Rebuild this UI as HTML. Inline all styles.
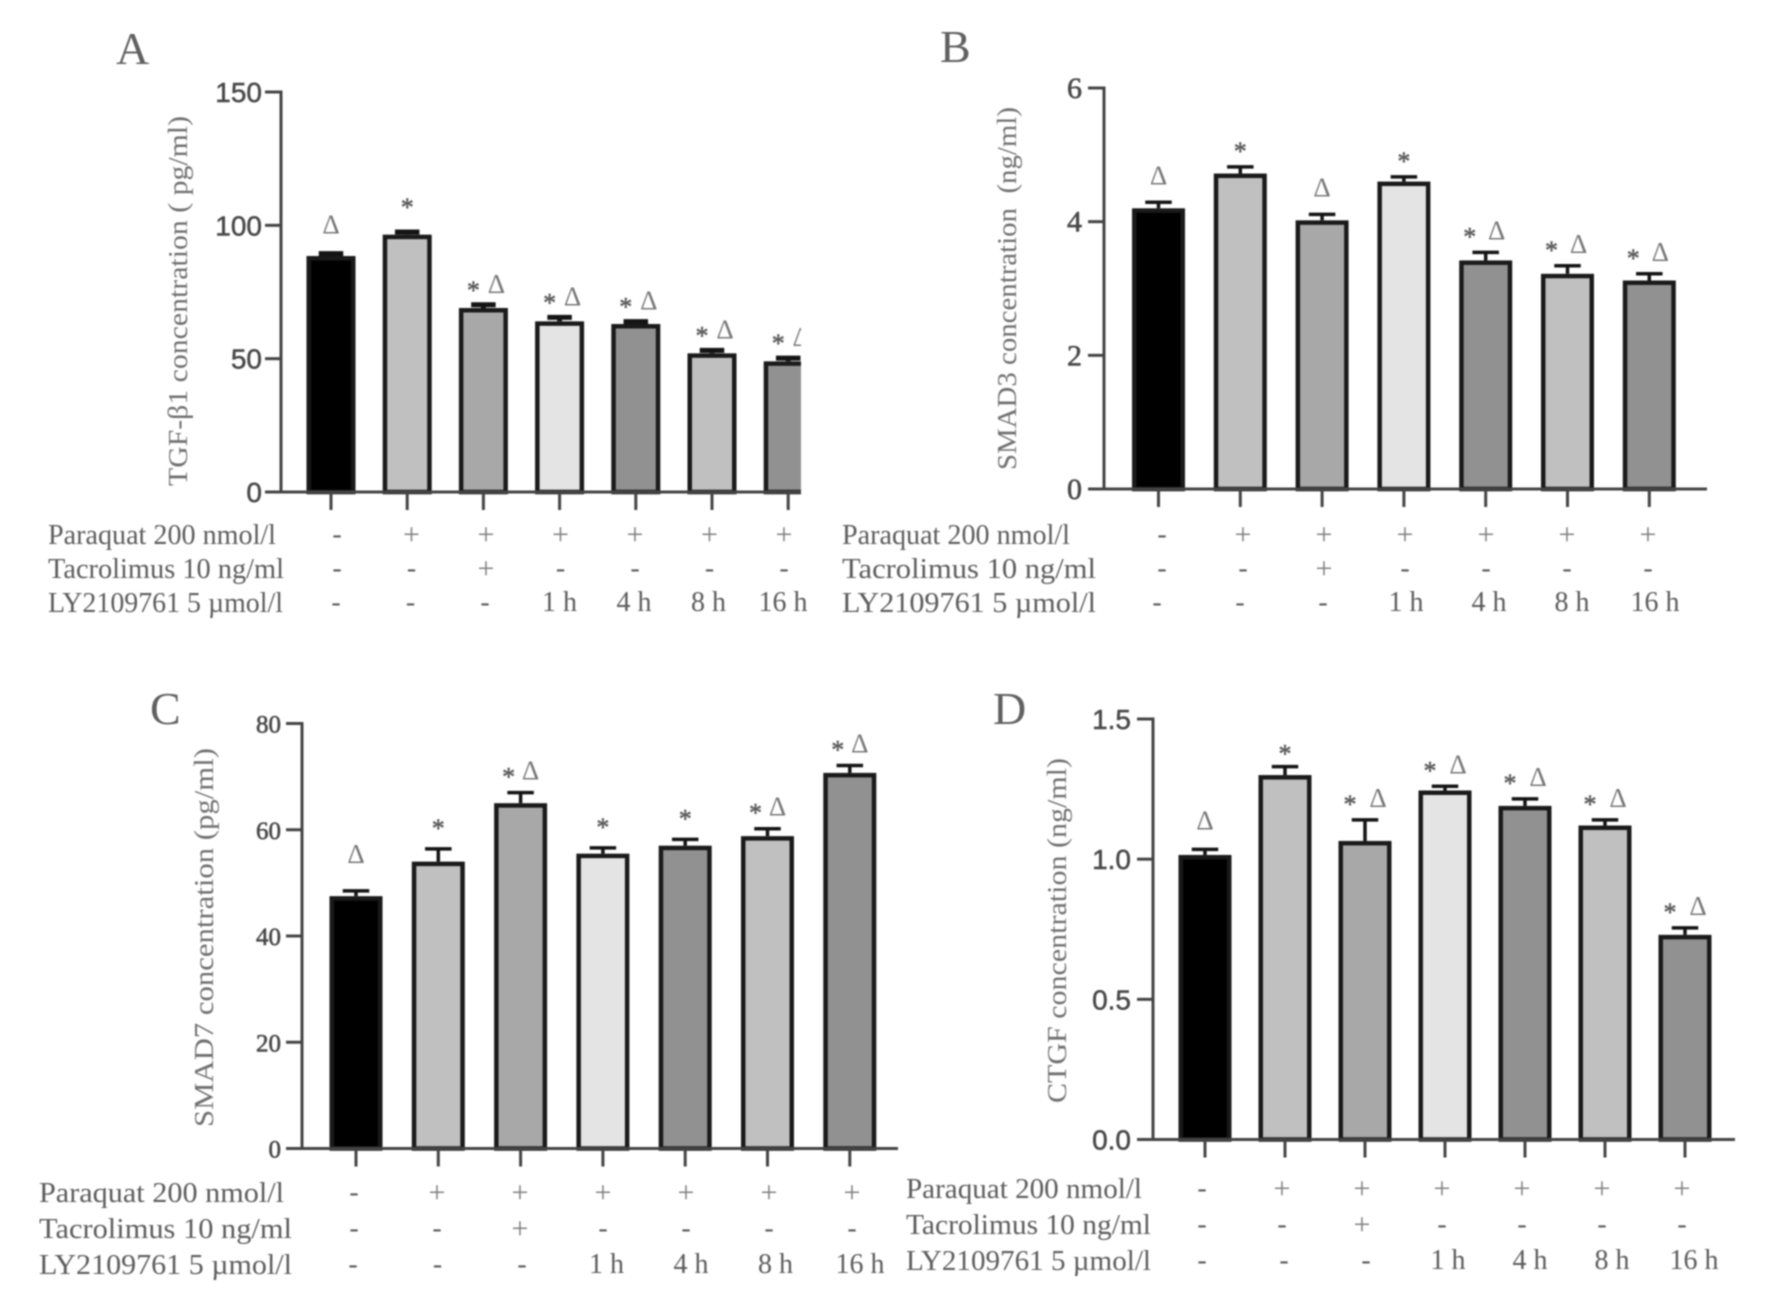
<!DOCTYPE html>
<html lang="en">
<head>
<meta charset="utf-8">
<title>Panel bar charts: TGF-β1, SMAD3, SMAD7, CTGF</title>
<style>
html,body{margin:0;padding:0;background:#fff;width:1772px;height:1309px;overflow:hidden}
svg{display:block;filter:blur(.85px)}
text{font-family:"Liberation Serif",serif;fill:#666}
.letter{font-size:46px;fill:#606060}
.ytitle{font-size:27px;fill:#707070}
.rowlabel{font-size:28px;fill:#5c5c5c}
.cell{font-size:28px;fill:#5c5c5c;text-anchor:middle}
.plus{font-size:30px;fill:#808080;text-anchor:middle}
.tick-sans{font-family:"Liberation Sans",sans-serif;font-size:28px;fill:#484848;stroke:#484848;stroke-width:.5px;text-anchor:end}
.tick-serif{font-size:26px;fill:#484848;stroke:#484848;stroke-width:.6px;text-anchor:end}
.star{font-size:26px;fill:#5c5c5c;stroke:#5c5c5c;stroke-width:.5px;text-anchor:middle}
.delta{font-size:27px;fill:#777;text-anchor:middle}
</style>
</head>
<body>
<svg id="figure" xmlns="http://www.w3.org/2000/svg" width="1772" height="1309" viewBox="0 0 1772 1309">
  <rect width="1772" height="1309" fill="#fff"/>
  <defs><clipPath id="clipA"><rect x="0" y="0" width="801" height="700"/></clipPath></defs>

  <text class="letter" x="116" y="64">A</text>
  <text class="letter" x="940" y="62">B</text>
  <text class="letter" x="150" y="724">C</text>
  <text class="letter" x="993" y="724">D</text>

  <text class="ytitle" transform="translate(187,486) rotate(-90)" textLength="370" lengthAdjust="spacingAndGlyphs">TGF-β1 concentration ( pg/ml)</text>
  <text class="ytitle" transform="translate(1016,470) rotate(-90)" textLength="363" lengthAdjust="spacingAndGlyphs">SMAD3 concentration&#160;&#160;(ng/ml)</text>
  <text class="ytitle" transform="translate(213,1127) rotate(-90)" textLength="379" lengthAdjust="spacingAndGlyphs">SMAD7 concentration (pg/ml)</text>
  <text class="ytitle" transform="translate(1066,1103) rotate(-90)" textLength="345" lengthAdjust="spacingAndGlyphs">CTGF concentration (ng/ml)</text>

  <text class="rowlabel" x="48" y="544" textLength="228" lengthAdjust="spacingAndGlyphs">Paraquat 200 nmol/l</text>
  <text class="rowlabel" x="48" y="578" textLength="236" lengthAdjust="spacingAndGlyphs">Tacrolimus 10 ng/ml</text>
  <text class="rowlabel" x="48" y="612" textLength="235" lengthAdjust="spacingAndGlyphs">LY2109761 5 µmol/l</text>

  <text class="rowlabel" x="842" y="544" textLength="228" lengthAdjust="spacingAndGlyphs">Paraquat 200 nmol/l</text>
  <text class="rowlabel" x="842" y="578" textLength="254" lengthAdjust="spacingAndGlyphs">Tacrolimus 10 ng/ml</text>
  <text class="rowlabel" x="842" y="612" textLength="254" lengthAdjust="spacingAndGlyphs">LY2109761 5 µmol/l</text>

  <text class="rowlabel" x="39" y="1202" textLength="245" lengthAdjust="spacingAndGlyphs">Paraquat 200 nmol/l</text>
  <text class="rowlabel" x="39" y="1238" textLength="253" lengthAdjust="spacingAndGlyphs">Tacrolimus 10 ng/ml</text>
  <text class="rowlabel" x="39" y="1274" textLength="253" lengthAdjust="spacingAndGlyphs">LY2109761 5 µmol/l</text>

  <text class="rowlabel" x="906" y="1198" textLength="236" lengthAdjust="spacingAndGlyphs">Paraquat 200 nmol/l</text>
  <text class="rowlabel" x="906" y="1234" textLength="245" lengthAdjust="spacingAndGlyphs">Tacrolimus 10 ng/ml</text>
  <text class="rowlabel" x="906" y="1270" textLength="245" lengthAdjust="spacingAndGlyphs">LY2109761 5 µmol/l</text>
</svg>
<script>
// Shared categories and treatment rows
const groups = ['control', 'paraquat', 'tacrolimus', 'ly-1h', 'ly-4h', 'ly-8h', 'ly-16h'];
const paraquatRow = ['-', '+', '+', '+', '+', '+', '+'];
const tacrolimusRow = ['-', '-', '+', '-', '-', '-', '-'];
const lyRow = ['-', '-', '-', '1 h', '4 h', '8 h', '16 h'];
const barFills = ['#000000', '#c0c0c0', '#a8a8a8', '#e4e4e4', '#919191', '#c0c0c0', '#919191'];

// Panel A: TGF-beta1
const tgfTicks = [0, 50, 100, 150];
const tgfValues = [88.5, 96.5, 69, 64, 63, 52, 49];
const tgfErrors = [0.9, 1, 1.2, 1.5, 0.9, 1.1, 1.2];
const tgfMarks = ['d', 's', 'sd', 'sd', 'sd', 'sd', 'sd'];

// Panel B: SMAD3
const smad3Ticks = [0, 2, 4, 6];
const smad3Values = [4.2, 4.72, 4.02, 4.6, 3.42, 3.22, 3.12];
const smad3Errors = [0.09, 0.1, 0.09, 0.07, 0.12, 0.12, 0.1];
const smad3Marks = ['d', 's', 'd', 's', 'sd', 'sd', 'sd'];

// Panel C: SMAD7
const smad7Ticks = [0, 20, 40, 60, 80];
const smad7Values = [47.5, 54, 65, 55.5, 57, 58.8, 70.7];
const smad7Errors = [1, 2.4, 2, 1.1, 1.2, 1.4, 1.4];
const smad7Marks = ['d', 's', 'sd', 's', 's', 'sd', 'sd'];

// Panel D: CTGF
const ctgfTicks = ['0.0', '0.5', '1.0', '1.5'];
const ctgfValues = [1.015, 1.3, 1.065, 1.245, 1.19, 1.12, 0.73];
const ctgfErrors = [0.02, 0.03, 0.075, 0.015, 0.025, 0.02, 0.025];
const ctgfMarks = ['d', 's', 'sd', 'sd', 'sd', 'sd', 'sd'];

const svg = document.getElementById('figure');
const NS = 'http://www.w3.org/2000/svg';

function mk(tag, attrs, parent) {
  const el = document.createElementNS(NS, tag);
  for (const k in attrs) el.setAttribute(k, attrs[k]);
  parent.appendChild(el);
  return el;
}

function drawPanel(p) {
  const g = mk('g', {}, svg);
  
  
  const maxTick = parseFloat(p.ticks[p.ticks.length - 1]);
  const yScale = v => p.y0 - (v / maxTick) * (p.y0 - p.yTop);
  const xScale = i => p.x0 + i * p.step;

  const marks = mk('g', p.clip ? { 'clip-path': 'url(#' + p.clip + ')' } : {}, g);
  
  

  groups.forEach((name, i) => {
    const cx = xScale(i);
    const top = yScale(p.values[i]);
    const errTop = yScale(p.values[i] + p.errors[i]);

    const stem = mk('line', { x1: cx, x2: cx, y1: top, y2: errTop, stroke: '#141414', 'stroke-width': p.capW }, marks);
    
    
    const cap = mk('line', { x1: cx - p.barW / 4, x2: cx + p.barW / 4, y1: errTop, y2: errTop, stroke: '#141414', 'stroke-width': p.capW }, marks);
    
    

    const bar = mk('rect', { x: cx - p.barW / 2 + 2.25, y: top + 2.25, width: p.barW - 4.5, height: Math.max(0, p.y0 - top - 2.25), fill: barFills[i], stroke: '#1a1a1a', 'stroke-width': 4.5 }, marks);
    
    

    const code = p.marks[i];
    const dy = code.length === 1 ? (code === 'd' ? p.deltaLift : p.starLift) : p.pairLift;
    if (code.includes('s')) {
      const sx = code.length === 1 ? cx : cx + p.starDx;
      const star = mk('text', { x: sx, y: errTop - dy + 16, class: 'star' }, marks);
      star.textContent = '*';
      
      
    }
    if (code.includes('d')) {
      const dx = code.length === 1 ? cx : cx + p.deltaDx;
      const delta = mk('text', { x: dx, y: errTop - dy + 10, class: 'delta' }, marks);
      delta.textContent = 'Δ';
      
      
    }

    const xt = mk('line', { x1: cx, x2: cx, y1: p.y0, y2: p.y0 + 18, stroke: '#444', 'stroke-width': 3 }, g);
    
    

    const rows = [
      [paraquatRow[i], p.rowBase[0], p.rowY[0]],
      [tacrolimusRow[i], p.rowBase[0], p.rowY[1]],
      [lyRow[i], p.rowBase[1], p.rowY[2]]
    ];
    rows.forEach((r, rowIndex) => {
      const isPlus = r[0] === '+';
      const cell = mk('text', { x: r[1] + i * (rowIndex === 2 ? p.rowStep[1] : p.rowStep[0]), y: r[2] + (isPlus ? 1 : 0), class: isPlus ? 'plus' : 'cell' }, g);
      cell.textContent = r[0];
      
      
    });
  });

  const yAxis = mk('line', { x1: p.axisX, x2: p.axisX, y1: p.yTop - 1.5, y2: p.y0, stroke: '#444', 'stroke-width': 3 }, g);
  
  
  const xAxis = mk('line', { x1: p.axisX - 16, x2: p.xEnd, y1: p.y0, y2: p.y0, stroke: '#444', 'stroke-width': 3 }, g);
  
  

  p.ticks.forEach(t => {
    const y = yScale(parseFloat(t));
    const tick = mk('line', { x1: p.axisX - 16, x2: p.axisX, y1: y, y2: y, stroke: '#444', 'stroke-width': 3 }, g);
    
    
    const label = mk('text', { x: p.tickRight, y: y + p.tickShift, class: p.tickClass }, g);
    if (p.tickSize) label.style.fontSize = p.tickSize + 'px';
    label.textContent = t;
    
    
  });
}

drawPanel({ id: 'a', ticks: tgfTicks, values: tgfValues, errors: tgfErrors, marks: tgfMarks,
  x0: 331, step: 76.2, barW: 49, capW: 5, axisX: 281, xEnd: 801, yTop: 92, y0: 492, clip: 'clipA',
  tickRight: 262, tickClass: 'tick-sans', tickShift: 10,
  rowBase: [337, 336], rowStep: [74.5, 74.5], rowY: [543, 577, 611],
  starDx: -10, deltaDx: 13, starLift: 32, deltaLift: 30, pairLift: 22 });

drawPanel({ id: 'b', ticks: smad3Ticks, values: smad3Values, errors: smad3Errors, marks: smad3Marks,
  x0: 1158.5, step: 81.8, barW: 53, capW: 3.5, axisX: 1104, xEnd: 1707, yTop: 88, y0: 489,
  tickRight: 1082, tickClass: 'tick-serif', tickShift: 10, tickSize: 30,
  rowBase: [1162, 1157], rowStep: [81, 83], rowY: [543, 577, 611],
  starDx: -16, deltaDx: 11, starLift: 23, deltaLift: 28, pairLift: 23 });

drawPanel({ id: 'c', ticks: smad7Ticks, values: smad7Values, errors: smad7Errors, marks: smad7Marks,
  x0: 356, step: 82.3, barW: 53, capW: 3.5, axisX: 302, xEnd: 898, yTop: 723.5, y0: 1148.5,
  tickRight: 281, tickClass: 'tick-serif', tickShift: 9, tickSize: 25,
  rowBase: [354, 353], rowStep: [83, 84.5], rowY: [1201, 1237, 1273],
  starDx: -12, deltaDx: 10, starLift: 28, deltaLift: 38, pairLift: 23 });

drawPanel({ id: 'd', ticks: ctgfTicks, values: ctgfValues, errors: ctgfErrors, marks: ctgfMarks,
  x0: 1205, step: 80, barW: 53, capW: 3.5, axisX: 1153, xEnd: 1735, yTop: 719, y0: 1139.5,
  tickRight: 1131, tickClass: 'tick-sans', tickShift: 10,
  rowBase: [1202, 1202], rowStep: [80, 82], rowY: [1197, 1233, 1269],
  starDx: -15, deltaDx: 13, starLift: 20, deltaLift: 30, pairLift: 23 });
</script>
</body>
</html>
